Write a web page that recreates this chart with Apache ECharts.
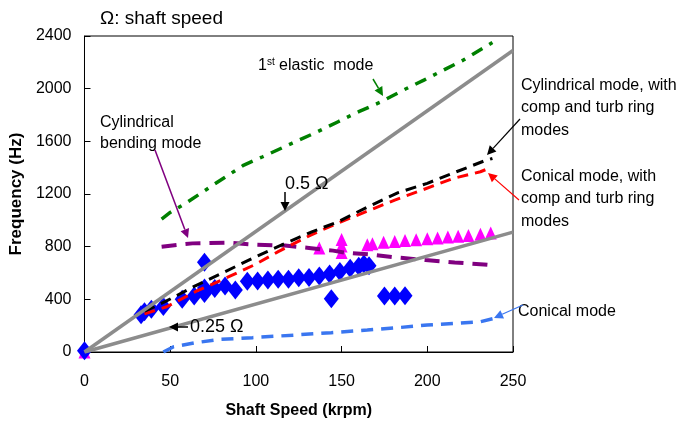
<!DOCTYPE html>
<html>
<head>
<meta charset="utf-8">
<script src="https://cdn.jsdelivr.net/npm/echarts@6/dist/echarts.min.js"></script>
<style>
html,body{margin:0;padding:0;background:#fff;}
#chart{width:678px;height:427px;}
</style>
</head>
<body>
<div id="chart"></div>
<script>
// ---- data (x = shaft speed krpm, y = frequency Hz) ----
const xTickLabels = [0, 50, 100, 150, 200, 250];
const yTickLabels = [0, 400, 800, 1200, 1600, 2000, 2400];

const measuredDiamonds = [
  [0,10],[33,282],[35,305],[39,325],[46,345],[57,400],[64,425],[70,445],[70,486],[70,682],
  [76,483],[82,501],[88,471],[95,537],[101,540],[107,547],[113,552],[119,552],[125,563],
  [131,566],[137,578],[143,593],[144,405],[149,612],[155,636],[160,652],[163,668],[166,655],
  [175,425],[181,425],[187,428]
];
const measuredTriangles = [
  [0,0],[137,790],[150,855],[150,805],[150,755],[165,815],[168,822],[174.5,833],[181,840],
  [187,846],[193.5,853],[200,860],[206,866],[212,873],[218,880],[224,885],[231,895],[237,903]
];
const firstElasticMode = [
  [45,1010],[50,1060],[59,1129],[75,1268],[93,1420],[104,1483],[121,1585],[136,1673],
  [148,1749],[160,1825],[173,1900],[186,1989],[198,2065],[210,2145],[221,2217],[238,2350]
];
const cylBendingMode = [
  [45,800],[55,815],[63,825],[84,830],[100,815],[117,808],[131,790],[145,770],[152,755],
  [167,740],[182,718],[199,698],[216,680],[233,665],[237,660]
];
const cylModeComp = [
  [35,310],[47,382],[64,498],[82,610],[98,711],[117,825],[133,914],[148,990],[165,1100],
  [183,1210],[200,1281],[217,1369],[234,1455],[238,1470]
];
const conModeComp = [
  [35,290],[48,344],[65,460],[80,547],[99,661],[113,762],[132,888],[147,975],[165,1070],
  [181,1154],[197,1230],[215,1318],[231,1369],[235,1390]
];
const conicalMode = [
  [46,0],[52,40],[65,71],[79,96],[98,109],[123,129],[144,147],[165,167],[183,185],
  [200,205],[216,217],[231,230],[239,255]
];
const halfOmega = [[0,0],[250,2290]];
const quarterOmega = [[0,0],[250,910]];

// ---- chart ----
const FONT = 'Liberation Sans, Arial, sans-serif';
function arrow(x1, y1, x2, y2, color, w) {
  const a = Math.atan2(y2 - y1, x2 - x1);
  const L = 9, W = 4.5;
  const bx = x2 - L * Math.cos(a), by = y2 - L * Math.sin(a);
  const px = -Math.sin(a) * W, py = Math.cos(a) * W;
  return [
    {type:'line', shape:{x1:x1, y1:y1, x2:bx, y2:by}, style:{stroke:color, lineWidth:w}, z:100},
    {type:'polygon', shape:{points:[[x2,y2],[bx+px,by+py],[bx-px,by-py]]}, style:{fill:color}, z:100}
  ];
}
function txt(x, y, text, size, extra) {
  return Object.assign({type:'text', z:100, style:Object.assign({
    x:x, y:y, text:text, font:size + 'px ' + FONT, fill:'#000',
    textVerticalAlign:'middle', textAlign:'left'
  }, extra || {})});
}

const chart = echarts.init(document.getElementById('chart'));
const lineSeries = (data, color, width, dash) => ({
  type:'line', data:data, showSymbol:false, symbol:'none', smooth:false,
  lineStyle:{color:color, width:width, type:dash}, silent:true, animation:false
});

const option = {
  animation:false,
  grid:{left:81, right:165, top:36, bottom:75, show:true, borderColor:'#000', borderWidth:1, backgroundColor:'transparent'},
  xAxis:{
    type:'value', min:0, max:250, interval:50,
    axisLine:{show:true, lineStyle:{color:'#000', width:1}},
    axisTick:{show:true, inside:true, length:6, lineStyle:{color:'#000'}},
    axisLabel:{fontSize:16, color:'#000', margin:22, fontFamily:FONT,
      formatter:v => xTickLabels.includes(v) ? String(v) : ''},
    splitLine:{show:false},
    name:'Shaft Speed (krpm)', nameLocation:'middle', nameGap:51,
    nameTextStyle:{fontSize:16, fontWeight:'bold', color:'#000', fontFamily:FONT}
  },
  yAxis:{
    type:'value', min:0, max:2400, interval:400,
    axisLine:{show:true, lineStyle:{color:'#000', width:1}},
    axisTick:{show:true, inside:true, length:6, lineStyle:{color:'#000'}},
    axisLabel:{fontSize:16, color:'#000', margin:13, fontFamily:FONT,
      formatter:v => yTickLabels.includes(v) ? String(v) : ''},
    splitLine:{show:false},
    name:'Frequency (Hz)', nameLocation:'middle', nameGap:53,
    nameTextStyle:{fontSize:17, fontWeight:'bold', color:'#000', fontFamily:FONT}
  },
  series:[
    {type:'scatter', data:measuredTriangles, symbol:'triangle', symbolSize:[12,13],
      itemStyle:{color:'#ff00ff', opacity:1}, silent:true},
    {type:'scatter', data:measuredDiamonds, symbol:'diamond', symbolSize:[15,19],
      itemStyle:{color:'#0000ff', opacity:1}, silent:true},
    lineSeries(cylBendingMode, '#800080', 4, [15,9]),
    lineSeries(conicalMode, '#3a76f0', 3.5, [12,8]),
    lineSeries(conModeComp, '#ff0000', 3, [11,7]),
    lineSeries(cylModeComp, '#000000', 3, [11,7]),
    lineSeries(firstElasticMode, '#008000', 3.5, [12,8,4,8]),
    lineSeries(halfOmega, '#8c8c8c', 3.5, 'solid'),
    lineSeries(quarterOmega, '#8c8c8c', 3.5, 'solid')
  ],
  graphic:[
    txt(100, 19, 'Ω: shaft speed', 19),
    {type:'text', z:100, style:{x:258, y:66, text:'{a|1}{s|st}{a| elastic  mode}', textVerticalAlign:'middle',
      rich:{a:{fontSize:16, fontFamily:FONT, fill:'#000', color:'#000'},
            s:{fontSize:10, fontFamily:FONT, fill:'#000', color:'#000', verticalAlign:'top', padding:[0,0,7,0]}}}},
    txt(100, 122, 'Cylindrical\nbending mode', 16, {lineHeight:21, textVerticalAlign:'top', y:112}),
    txt(285, 184, '0.5 Ω', 18),
    txt(190, 327, '0.25 Ω', 18),
    txt(521, 84, 'Cylindrical mode, with\ncomp and turb ring\nmodes', 16, {lineHeight:22.5, textVerticalAlign:'top', y:74}),
    txt(521, 175, 'Conical mode, with\ncomp and turb ring\nmodes', 16, {lineHeight:22.5, textVerticalAlign:'top', y:165}),
    txt(518, 312, 'Conical mode', 16),
    ...arrow(373, 79, 383, 96, '#008000', 1.5),
    ...arrow(155, 150, 188, 238, '#800080', 1.5),
    ...arrow(285, 192, 285, 211, '#000', 1.5),
    ...arrow(188, 327, 169, 327, '#000', 1.5),
    ...arrow(520, 119, 487, 155, '#000', 1.2),
    ...arrow(519, 200, 488, 173, '#ff0000', 1.2),
    ...arrow(523, 305, 494, 318, '#3a76f0', 1.2)
  ]
};
chart.setOption(option);
</script>
</body>
</html>
